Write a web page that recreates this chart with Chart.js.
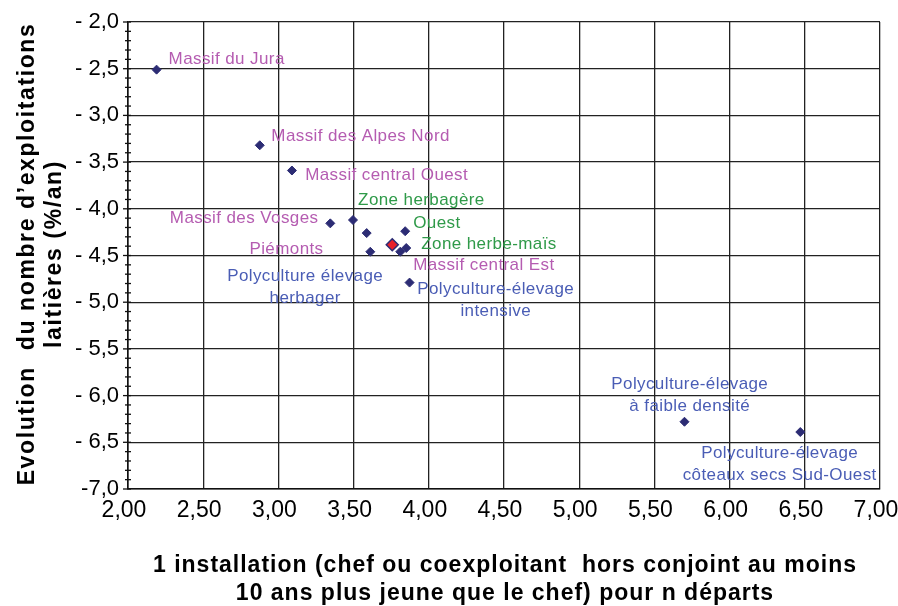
<!DOCTYPE html>
<html>
<head>
<meta charset="utf-8">
<script src="https://cdn.jsdelivr.net/npm/chart.js@4"></script>
<style>
  html, body { margin: 0; padding: 0; background: #fff; }
  canvas { display: block; }
</style>
</head>
<body>
<canvas id="scatterChart" width="898" height="606"></canvas>
<script>
// regions (x = installations ratio, y = evolution %/an)
const pointX = [2.19, 2.876, 3.09, 3.345, 3.496, 3.587, 3.843, 3.611, 3.81, 3.85, 3.872, 5.70, 6.47];
const pointY = [-2.51, -3.32, -3.59, -4.156, -4.12, -4.26, -4.24, -4.46, -4.46, -4.42, -4.79, -6.28, -6.39];
// national mean (red)
const meanX = [3.757];
const meanY = [-4.385];

const xTickLabels = ['2,00', '2,50', '3,00', '3,50', '4,00', '4,50', '5,00', '5,50', '6,00', '6,50', '7,00'];
const yTickLabels = ['-7,0', '- 6,5', '- 6,0', '- 5,5', '- 5,0', '- 4,5', '- 4,0', '- 3,5', '- 3,0', '- 2,5', '- 2,0'];

// annotations
const labelText = [
    ['Massif du Jura'], ['Massif des Alpes Nord'], ['Massif central Ouest'], ['Zone herbagère'],
    ['Massif des Vosges'], ['Ouest'], ['Zone herbe-maïs'], ['Piémonts'], ['Massif central Est'],
    ['Polyculture élevage', 'herbager'], ['Polyculture-élevage', 'intensive'],
    ['Polyculture-élevage', 'à faible densité'], ['Polyculture-élevage', 'côteaux secs Sud-Ouest']
];
const labelX = [2.27, 2.953, 3.178, 3.53, 3.266, 3.896, 3.95, 3.30, 3.896, 3.178, 4.445, 5.735, 6.333];
const labelY = [-2.40, -3.22, -3.64, -3.91, -4.10, -4.156, -4.38, -4.435, -4.61, -4.726, -4.866, -5.876, -6.617];
const labelAlign = ['left', 'left', 'left', 'left', 'right', 'left', 'left', 'right', 'left', 'center', 'center', 'center', 'center'];
const labelGroup = ['massif', 'massif', 'massif', 'zone', 'massif', 'zone', 'zone', 'massif', 'massif', 'poly', 'poly', 'poly', 'poly'];

const groupColors = { massif: '#b55cb1', zone: '#2f9a49', poly: '#4a5db5' };
const NAVY = '#2c2c74';
const FONT = '"Liberation Sans", Arial, sans-serif';

const extrasPlugin = {
    id: 'extras',
    afterDatasetsDraw(chart) {
        const ctx = chart.ctx;
        const xs = chart.scales.x;
        const ys = chart.scales.y;
        const area = chart.chartArea;
        ctx.save();

        // minor ticks on the y axis
        ctx.strokeStyle = '#111';
        ctx.lineWidth = 1.3;
        for (let i = 0; i <= 50; i++) {
            const py = ys.getPixelForValue(-7 + i * 0.1);
            const major = i % 5 === 0;
            ctx.beginPath();
            ctx.moveTo(area.left - (major ? 5 : 3), py);
            ctx.lineTo(area.left + 3, py);
            ctx.stroke();
        }

        // point labels
        ctx.font = '17px ' + FONT;
        ctx.letterSpacing = '0.4px';
        ctx.textBaseline = 'middle';
        labelText.forEach((lines, i) => {
            ctx.fillStyle = groupColors[labelGroup[i]];
            ctx.textAlign = labelAlign[i];
            const px = xs.getPixelForValue(labelX[i]);
            const py = ys.getPixelForValue(labelY[i]);
            lines.forEach((line, j) => ctx.fillText(line, px, py + j * 22));
        });

        // axis titles
        ctx.fillStyle = '#000';
        ctx.textBaseline = 'alphabetic';
        ctx.font = 'bold 23px ' + FONT;
        ctx.letterSpacing = '1px';
        ctx.textAlign = 'center';
        ctx.fillText('1 installation (chef ou coexploitant  hors conjoint au moins', 505, 572);
        ctx.fillText('10 ans plus jeune que le chef) pour n départs', 505, 600);

        ctx.translate(0, 254);
        ctx.rotate(-Math.PI / 2);
        ctx.letterSpacing = '1.6px';
        ctx.fillText('Evolution  du nombre d\u2019exploitations', 0, 34);
        ctx.fillText('laitières (%/an)', 0, 61);
        ctx.restore();
    }
};

const ctx = document.getElementById('scatterChart').getContext('2d');
new Chart(ctx, {
    type: 'scatter',
    data: {
        datasets: [{
            label: 'Régions',
            data: pointX.map((x, i) => ({ x: x, y: pointY[i] })),
            pointStyle: 'rectRot',
            pointRadius: 4.5,
            backgroundColor: NAVY,
            borderColor: NAVY,
            borderWidth: 1
        }, {
            label: 'Moyenne',
            data: meanX.map((x, i) => ({ x: x, y: meanY[i] })),
            pointStyle: 'rectRot',
            pointRadius: 6,
            backgroundColor: '#e8202a',
            borderColor: NAVY,
            borderWidth: 1.5
        }]
    },
    options: {
        responsive: false,
        animation: false,
        devicePixelRatio: 1,
        layout: { padding: { top: 22, right: 18, left: 0, bottom: 0 } },
        plugins: {
            legend: { display: false },
            tooltip: { enabled: false }
        },
        scales: {
            x: {
                type: 'linear',
                min: 2,
                max: 7,
                ticks: {
                    stepSize: 0.5,
                    color: '#000',
                    font: { family: FONT, size: 23 },
                    padding: 8,
                    labelOffset: -4,
                    maxRotation: 0,
                    callback: (v) => xTickLabels[Math.round((v - 2) / 0.5)]
                },
                grid: { color: '#222', lineWidth: 1.3, drawTicks: false },
                border: { color: '#111', width: 1.6 },
                afterFit: (s) => { s.height = 117; s.paddingLeft = 0; s.paddingRight = 0; }
            },
            y: {
                type: 'linear',
                min: -7,
                max: -2,
                ticks: {
                    stepSize: 0.5,
                    color: '#000',
                    font: { family: FONT, size: 22 },
                    padding: 9,
                    callback: (v) => yTickLabels[Math.round((v + 7) / 0.5)]
                },
                grid: { color: '#222', lineWidth: 1.3, drawTicks: false },
                border: { color: '#111', width: 1.6 },
                afterFit: (s) => { s.width = 128; s.paddingTop = 0; s.paddingBottom = 0; }
            }
        }
    },
    plugins: [extrasPlugin]
});
</script>
</body>
</html>
